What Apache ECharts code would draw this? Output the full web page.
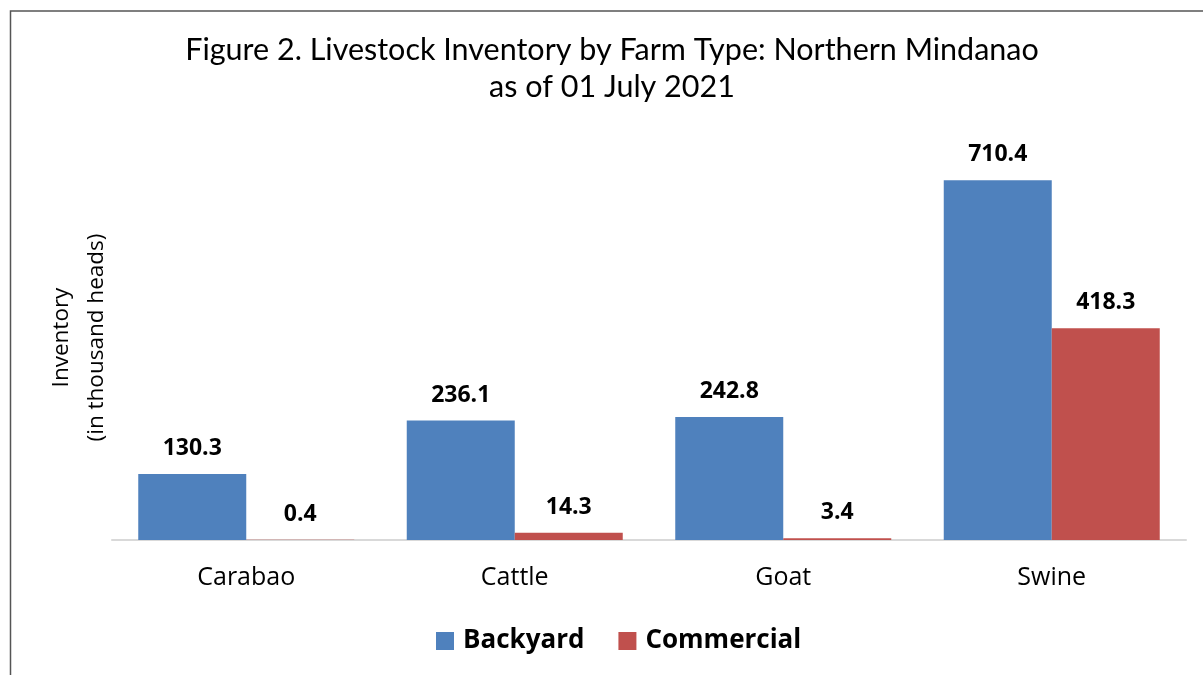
<!DOCTYPE html>
<html>
<head>
<meta charset="utf-8">
<script src="https://cdn.jsdelivr.net/npm/echarts@6/dist/echarts.min.js"></script>
<style>
  html, body { margin: 0; padding: 0; background: #fff; }
  #chart { width: 1203px; height: 675px; }
</style>
</head>
<body>
<div id="chart"></div>
<script>
const categories = ['Carabao', 'Cattle', 'Goat', 'Swine'];
const backyard = [130.3, 236.1, 242.8, 710.4];
const commercial = [0.4, 14.3, 3.4, 418.3];

const BLUE = '#4F81BD';
const RED = '#C0504D';
const labelFont = '"Open Sans", "Noto Sans", sans-serif';

const chart = echarts.init(document.getElementById('chart'));

// bold value labels above each bar
const valueLabel = {
    show: true,
    position: 'top',
    distance: 14,
    formatter: p => p.value.toFixed(1),
    fontFamily: labelFont,
    fontWeight: 'bold',
    fontSize: 23,
    color: '#000'
};

const option = {
    animation: false,
    backgroundColor: '#fff',
    title: {
        text: 'Figure 2. Livestock Inventory by Farm Type: Northern Mindanao\nas of 01 July 2021',
        left: 607,
        textAlign: 'center',
        top: 27,
        textStyle: {
            fontFamily: 'Lato, sans-serif',
            fontWeight: 'normal',
            fontSize: 30.5,
            lineHeight: 37,
            color: '#000'
        }
    },
    graphic: [{
        type: 'rect',
        shape: { x: 10.5, y: 11, width: 1400, height: 900 },
        style: { fill: 'none', stroke: '#555', lineWidth: 1.5 },
        silent: true
    }],
    legend: {
        data: ['Backyard', 'Commercial'],
        bottom: 16,
        left: 431,
        itemWidth: 18,
        itemHeight: 18,
        itemGap: 34,
        icon: 'rect',
        textStyle: {
            fontFamily: labelFont,
            fontWeight: 'bold',
            fontSize: 26,
            color: '#000',
            padding: [0, 0, 0, 4]
        }
    },
    grid: {
        left: 112,
        right: 17,
        top: 135,
        bottom: 135
    },
    xAxis: {
        type: 'category',
        data: categories,
        axisLine: { lineStyle: { color: '#d9d9d9', width: 2 } },
        axisTick: { show: false },
        axisLabel: {
            margin: 25,
            fontFamily: labelFont,
            fontSize: 25,
            color: '#000'
        }
    },
    yAxis: {
        type: 'value',
        min: 0,
        max: 800,
        name: 'Inventory\n(in thousand heads)',
        nameLocation: 'middle',
        nameRotate: 90,
        nameGap: -2,
        nameTextStyle: {
            fontFamily: labelFont,
            fontSize: 22.5,
            lineHeight: 35,
            color: '#000'
        },
        axisLine: { show: false },
        axisTick: { show: false },
        axisLabel: { show: false },
        splitLine: { show: false }
    },
    series: [{
        name: 'Backyard',
        type: 'bar',
        data: backyard,
        barWidth: 108,
        barGap: '0%',
        itemStyle: { color: BLUE },
        label: valueLabel
    }, {
        name: 'Commercial',
        type: 'bar',
        data: commercial,
        barWidth: 108,
        barGap: '0%',
        itemStyle: { color: RED },
        label: valueLabel
    }]
};

chart.setOption(option);
</script>
</body>
</html>
